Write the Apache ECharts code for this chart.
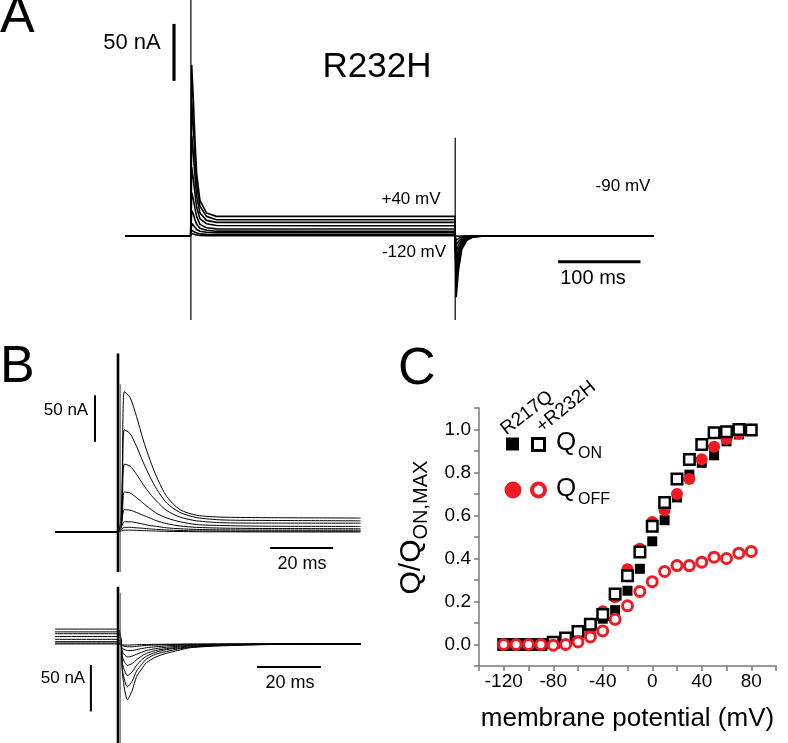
<!DOCTYPE html>
<html><head><meta charset="utf-8">
<script src="https://cdn.jsdelivr.net/npm/echarts@6/dist/echarts.min.js"></script>
<style>html,body{margin:0;padding:0;background:#fff}#c{width:788px;height:743px}</style>
</head><body><div id="c"></div>
<script>
const FONT = '"Liberation Sans", Arial, Helvetica, sans-serif';

// ---------- Panel C data ----------
const V_MV = [-120,-110,-100,-90,-80,-70,-60,-50,-40,-30,-20,-10,0,10,20,30,40,50,60,70,80];
const R217Q_QON  = [0,0,0,0,0.015,0.025,0.04,0.07,0.12,0.16,0.25,0.352,0.48,0.578,0.684,0.79,0.845,0.88,0.945,0.977,0.995];
const R217Q_QOFF = [0,0,0,0,0,0.005,0.02,0.05,0.155,0.22,0.35,0.445,0.57,0.625,0.70,0.77,0.862,0.92,0.956,0.98,1.0];
const R232H_QON  = [0,0,0,0,0.01,0.03,0.06,0.094,0.14,0.235,0.32,0.43,0.55,0.66,0.77,0.86,0.93,0.985,0.99,1.0,0.998];
const R232H_QOFF = [0,0,0,0,-0.003,0,0.012,0.035,0.063,0.117,0.18,0.247,0.292,0.34,0.367,0.367,0.383,0.406,0.40,0.425,0.433];
const X_TICK_LABELS = [-120,-80,-40,0,40,80];
const Y_TICK_LABELS = ['0.0','0.2','0.4','0.6','0.8','1.0'];

// ---------- Panel A traces (ms, nA) ----------
const A_TIME = [0,79.8,81,83,85,87,91,99,111,250,400.5,402.2,405,409,415,423,440,643];
const A_TRACES = [
  [0,0,150,119,84,55,31,20,17,17,17,-54,-30,-12,-4,-1,0,0],
  [0,0,118,95,68,45,26,17,14,14,14,-44,-25,-10,-3.5,-1,0,0],
  [0,0,88,72,52,35,20,13.5,11.7,11.7,11.7,-36,-20,-8,-3,-0.8,0,0],
  [0,0,60,50,37,25,15,10.5,9,8.8,8.8,-28,-16,-6.5,-2.5,-0.6,0,0],
  [0,0,38,32,24,17,10,7,6,5.9,5.9,-21,-12,-5,-2,-0.5,0,0],
  [0,0,22,19,14,10,6.5,4.8,4,3.8,3.8,-14,-8,-3.5,-1.2,-0.3,0,0],
  [0,0,11,9.5,7.5,5.5,4,3,2.7,2.6,2.6,-8,-5,-2,-0.8,-0.2,0,0],
  [0,0,5,4,3,2.2,1.6,1.2,1,1,1,-4,-2.5,-1,-0.3,0,0,0],
  [0,0,2,1.5,1,0.5,0.2,0,0,0,0,-1,-0.5,-0.2,0,0,0,0]
];
const A_ART_ON  = [[80,207],[80,-74]];
const A_ART_OFF = [[401,86],[401,-74]];
const SB_A_V = [[59.5,186],[59.5,136]];
const SB_A_H = [[526,-22.8],[626,-22.8]];

// ---------- Panel B top: ON currents ----------
const B_ON_TIME = [-20,0,2,3.8,5.9,8,10.2,12.3,15.5,19.7,25,33,45,77];
const B_ON_TRACES = [
  [0,0,151,145,124,99,77,59,38,24,18,16,15.5,15],
  [0,0,110,106,92,75,59,46,31,21,15.5,13,12.5,12],
  [0,0,73,71,62,51,41,33,23,16,12,10,9.6,9.5],
  [0,0,43,42,37,31,25,20,15,11,8,7,6.3,6],
  [0,0,24,23.5,21,18,15,12,9,6.5,5,4.2,3.8,3.5],
  [0,0,11,11,10,8.5,7,6,4.5,3.5,2.8,2.3,2.1,2],
  [0,0,5,5,4.5,4,3.3,2.8,2.2,1.6,1.2,1,0.9,0.8],
  [0,0,2,2,1.8,1.5,1.2,1,0.7,0.5,0.3,0.2,0.1,0]
];
const B_ON_ART  = [[0,192],[0,-43]];
const B_ON_ART2 = [[0.7,159],[0.7,-43]];
const SB_BT_V = [[-7.3,147],[-7.3,97]];
const SB_BT_H = [[48.3,-17.2],[68.3,-17.2]];

// ---------- Panel B bottom: OFF currents ----------
const B_OFF_TIME = [-20,0,1.5,3,4.5,5.9,7.5,9.1,12,15.4,19,23,33,50,77];
const B_OFF_TRACES = [
  [16,16,-35,-60,-50,-35,-27,-20,-14,-10,-7,-4,-2,-0.5,0],
  [13,13,-30,-46,-40,-29,-22,-16,-11,-8,-5.5,-3.5,-1.5,-0.4,0],
  [11,11,-22,-34,-30,-23,-17,-13,-9,-6,-4.5,-3,-1.2,-0.3,0],
  [8,8,-15,-23,-21,-17,-13,-10,-7,-5,-3.5,-2.2,-1,-0.2,0],
  [5,5,-9,-14,-13,-11,-9,-7,-5,-3.5,-2.5,-1.5,-0.6,-0.1,0],
  [2.5,2.5,-5,-7,-7,-6,-5,-4,-3,-2,-1.5,-1,-0.4,0,0],
  [1,1,-2,-3,-3,-2.5,-2,-1.5,-1.2,-0.8,-0.5,-0.3,-0.1,0,0],
  [0,0,-1,-1.2,-1,-0.8,-0.6,-0.5,-0.4,-0.3,-0.2,-0.1,0,0,0]
];
const B_OFF_ART  = [[0,61.6],[0,-106.5]];
const B_OFF_ART2 = [[0.7,55],[0.7,-106.5]];
const SB_BB_V = [[-8.6,-22.6],[-8.6,-72.6]];
const SB_BB_H = [[44.1,-24.7],[64.4,-24.7]];

const RED = '#ed1c24';

function lineS(g, data, width, color, smooth) {
  return {type:'line', xAxisIndex:g, yAxisIndex:g, data:data, symbol:'none', showSymbol:false,
    smooth: smooth || false,
    lineStyle:{color:color||'#000', width:width}, silent:true, animation:false, clip:false, z:2};
}
function traces(g, time, arr, width, smooth) {
  return arr.map(v => lineS(g, time.map((t,i)=>[t, v[i]]), width, '#000', smooth));
}
function hiddenX(min,max,g){return {type:'value', gridIndex:g, min:min, max:max, show:false};}
function hiddenY(min,max,g){return {type:'value', gridIndex:g, min:min, max:max, show:false};}

function txt(x, y, text, size, opts) {
  opts = opts || {};
  return {type:'text', x:x, y:y, rotation:opts.rot||0, z:10,
    style:{text:text, fill:opts.fill||'#000', font: size+'px '+FONT,
      textAlign:opts.align||'center', textVerticalAlign:'middle', align:opts.align||'center', verticalAlign:'middle'}};
}

const pairs = arr => V_MV.map((v,i)=>[v, arr[i]]);

const option = {
  backgroundColor:'#fff',
  animation:false,
  grid:[
    {left:125, top:0, width:527, height:320},
    {left:55, top:340, width:305.55, height:232},
    {left:55, top:580, width:305.55, height:163},
    {left:479, top:408, width:297, height:258}
  ],
  xAxis:[
    hiddenX(0,640,0), hiddenX(-20,77,1), hiddenX(-20,77,2),
    {type:'value', gridIndex:3, min:-140, max:100, interval:20,
      axisLine:{onZero:false, lineStyle:{color:'#7a7a7a', width:1.5}},
      axisTick:{length:5, lineStyle:{color:'#7a7a7a', width:1.5}},
      splitLine:{show:false},
      axisLabel:{color:'#000', fontSize:19, fontFamily:FONT, margin:6,
        formatter: v => X_TICK_LABELS.indexOf(Math.round(v))>=0 ? String(Math.round(v)) : ''},
      name:'membrane potential (mV)', nameLocation:'middle', nameGap:40,
      nameTextStyle:{color:'#000', fontSize:26, fontFamily:FONT}}
  ],
  yAxis:[
    hiddenY(-74,207,0), hiddenY(-43,206.5,1), hiddenY(-106.5,68.8,2),
    {type:'value', gridIndex:3, min:-0.1, max:1.1, interval:0.1,
      axisLine:{onZero:false, lineStyle:{color:'#7a7a7a', width:1.5}},
      axisTick:{length:5, lineStyle:{color:'#7a7a7a', width:1.5}},
      splitLine:{show:false},
      axisLabel:{color:'#000', fontSize:19, fontFamily:FONT, margin:8,
        formatter: v => { const k = Math.round(v*10); return (k>=0 && k%2===0) ? Y_TICK_LABELS[k/2] : ''; }}}
  ],
  series:[].concat(
    traces(0, A_TIME, A_TRACES, 1.6),
    [lineS(0, A_ART_ON, 1.2), lineS(0, A_ART_OFF, 1.2), lineS(0, SB_A_V, 3.2), lineS(0, SB_A_H, 3)],
    traces(1, B_ON_TIME, B_ON_TRACES, 1, 0.25),
    [lineS(1, B_ON_ART, 2.6), lineS(1, B_ON_ART2, 1, '#555'), lineS(1, SB_BT_V, 2), lineS(1, SB_BT_H, 2)],
    traces(2, B_OFF_TIME, B_OFF_TRACES, 1, 0.25),
    [lineS(2, B_OFF_ART, 2.6), lineS(2, B_OFF_ART2, 1, '#555'), lineS(2, SB_BB_V, 2), lineS(2, SB_BB_H, 2)],
    [
      {type:'scatter', xAxisIndex:3, yAxisIndex:3, data:pairs(R217Q_QON), symbol:'rect', symbolSize:10,
        itemStyle:{color:'#000', opacity:1}, z:3},
      {type:'scatter', xAxisIndex:3, yAxisIndex:3, data:pairs(R217Q_QOFF), symbol:'circle', symbolSize:12,
        itemStyle:{color:RED, opacity:1}, z:4},
      {type:'scatter', xAxisIndex:3, yAxisIndex:3, data:pairs(R232H_QON), symbol:'rect', symbolSize:10.5,
        itemStyle:{color:'#fff', borderColor:'#000', borderWidth:2.5, opacity:1}, z:5},
      {type:'scatter', xAxisIndex:3, yAxisIndex:3, data:pairs(R232H_QOFF), symbol:'circle', symbolSize:10,
        itemStyle:{color:'#fff', borderColor:RED, borderWidth:3, opacity:1}, z:6}
    ]
  ),
  graphic:[
    // panel letters
    txt(0, 18, 'A', 52, {align:'left'}),
    txt(0, 368, 'B', 52, {align:'left'}),
    txt(398, 370, 'C', 52, {align:'left'}),
    // panel A texts
    txt(132, 43, '50 nA', 22),
    txt(377, 67, 'R232H', 35),
    txt(411, 199, '+40 mV', 17),
    txt(623, 186, '-90 mV', 17),
    txt(414, 252, '-120 mV', 17),
    txt(593, 278, '100 ms', 20),
    // panel B texts
    txt(66, 410, '50 nA', 17),
    txt(302, 564, '20 ms', 18),
    txt(63, 678, '50 nA', 17),
    txt(290, 683, '20 ms', 18),
    // panel C y title
    txt(412, 567, 'Q/Q', 30, {rot:Math.PI/2}),
    txt(421, 500, 'ON,MAX', 20, {rot:Math.PI/2}),
    // panel C legend
    txt(527, 413, 'R217Q', 19, {rot:0.65}),
    txt(566, 407, '+R232H', 19, {rot:0.68}),
    {type:'rect', shape:{x:506, y:437.5, width:13, height:13}, style:{fill:'#000'}, z:10},
    {type:'rect', shape:{x:532.5, y:438.5, width:12, height:12}, style:{fill:'#fff', stroke:'#000', lineWidth:3}, z:10},
    txt(556, 443, 'Q', 26, {align:'left'}),
    txt(578, 454, 'ON', 16, {align:'left'}),
    {type:'circle', shape:{cx:513, cy:490, r:8.5}, style:{fill:RED}, z:10},
    {type:'circle', shape:{cx:538.5, cy:490, r:6.5}, style:{fill:'#fff', stroke:RED, lineWidth:4}, z:10},
    txt(556, 489, 'Q', 26, {align:'left'}),
    txt(578, 500, 'OFF', 16, {align:'left'})
  ]
};

const chart = echarts.init(document.getElementById('c'), null, {renderer:'canvas'});
chart.setOption(option);
</script></body></html>
